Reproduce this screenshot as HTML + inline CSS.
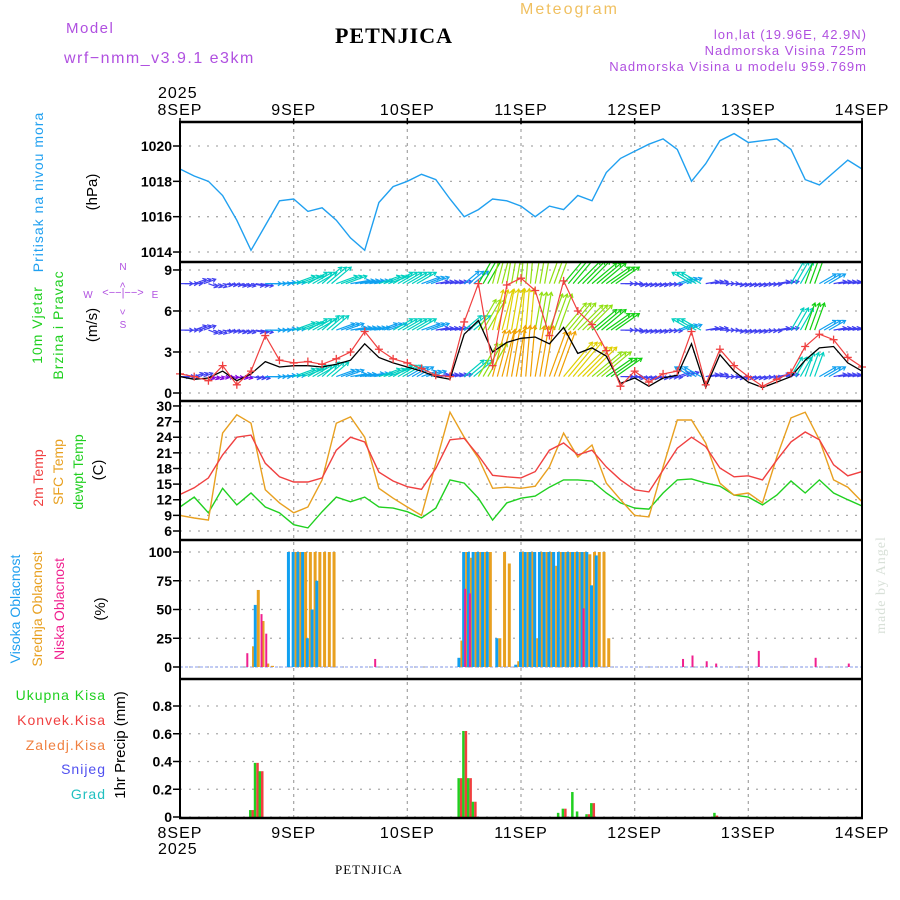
<!DOCTYPE html>
<html><head><meta charset="utf-8"><style>
html,body{margin:0;padding:0;background:#fff;}
svg{display:block;font-family:"Liberation Sans",sans-serif;}
</style></head><body>
<svg id="chart" width="900" height="900" viewBox="0 0 900 900" xmlns="http://www.w3.org/2000/svg">
<defs><clipPath id="cw"><rect x="180" y="262" width="682" height="139"/></clipPath></defs>
<text x="66" y="33" font-size="15" fill="#b050e0" letter-spacing="1.5">Model</text>
<text x="64" y="63" font-size="16" fill="#b050e0" letter-spacing="1.5">wrf−nmm_v3.9.1 e3km</text>
<text x="394" y="43" font-size="22" font-weight="bold" text-anchor="middle" font-family="Liberation Serif,serif" letter-spacing="1">PETNJICA</text>
<text x="520" y="14" font-size="16" fill="#f0c060" letter-spacing="2">Meteogram</text>
<text x="867" y="39" font-size="13" fill="#b050e0" text-anchor="end" letter-spacing="1">lon,lat (19.96E, 42.9N)</text>
<text x="867" y="55" font-size="13" fill="#b050e0" text-anchor="end" letter-spacing="1">Nadmorska Visina 725m</text>
<text x="867" y="71" font-size="13" fill="#b050e0" text-anchor="end" letter-spacing="1">Nadmorska Visina u modelu 959.769m</text>
<text x="158" y="98" font-size="16" letter-spacing="1">2025</text>
<text x="158" y="854" font-size="16" letter-spacing="1">2025</text>
<text x="369" y="874" font-size="13" text-anchor="middle" font-family="Liberation Serif,serif" letter-spacing="1">PETNJICA</text>
<text transform="translate(885,585) rotate(-90)" font-size="14" fill="#d8e0d8" text-anchor="middle" font-family="Liberation Serif,serif" letter-spacing="1">made by Angel</text>
<!-- left titles -->
<text transform="translate(43,192) rotate(-90)" font-size="14" fill="#20a0f0" text-anchor="middle" letter-spacing="1">Pritisak na nivou mora</text>
<text transform="translate(97,192) rotate(-90)" font-size="15" text-anchor="middle">(hPa)</text>
<text transform="translate(42,325) rotate(-90)" font-size="14" fill="#20d020" text-anchor="middle" letter-spacing="1">10m Vjetar</text>
<text transform="translate(63,325) rotate(-90)" font-size="14" fill="#20d020" text-anchor="middle" letter-spacing="1">Brzina i Pravac</text>
<text transform="translate(97,325) rotate(-90)" font-size="15" text-anchor="middle">(m/s)</text>
<g fill="#b050e0" stroke="none" font-size="10">
<text x="123" y="270" text-anchor="middle">N</text><text x="123" y="328" text-anchor="middle">S</text>
<text x="88" y="298" text-anchor="middle">W</text><text x="155" y="298" text-anchor="middle">E</text>
<text x="123" y="296" text-anchor="middle" font-size="11">&lt;−−|−−&gt;</text>
<text transform="translate(126,285) rotate(-90)" text-anchor="middle">&gt;</text>
<text transform="translate(126,312) rotate(-90)" text-anchor="middle">&lt;</text>
</g>
<text transform="translate(43,478) rotate(-90)" font-size="14" fill="#f04040" text-anchor="middle">2m Temp</text>
<text transform="translate(63,472) rotate(-90)" font-size="14" fill="#e8a020" text-anchor="middle">SFC Temp</text>
<text transform="translate(83,472) rotate(-90)" font-size="14" fill="#20d020" text-anchor="middle">dewpt Temp</text>
<text transform="translate(103,470) rotate(-90)" font-size="15" text-anchor="middle">(C)</text>
<text transform="translate(20,609) rotate(-90)" font-size="14" fill="#20a0f0" text-anchor="middle">Visoka Oblacnost</text>
<text transform="translate(42,609) rotate(-90)" font-size="14" fill="#e8a020" text-anchor="middle">Srednja Oblacnost</text>
<text transform="translate(64,609) rotate(-90)" font-size="14" fill="#f0208f" text-anchor="middle">Niska Oblacnost</text>
<text transform="translate(105,609) rotate(-90)" font-size="15" text-anchor="middle">(%)</text>
<g font-size="14" text-anchor="end" letter-spacing="1">
<text x="106" y="700" fill="#20d020">Ukupna Kisa</text>
<text x="106" y="725" fill="#f04040">Konvek.Kisa</text>
<text x="106" y="750" fill="#f08040">Zaledj.Kisa</text>
<text x="106" y="774" fill="#5050f0">Snijeg</text>
<text x="106" y="799" fill="#20c0c0">Grad</text>
</g>
<text transform="translate(125,745) rotate(-90)" font-size="15" text-anchor="middle">1hr Precip (mm)</text>
<g id="grid"></g><g id="marks"></g><g id="frame"></g>
</svg>
<script>
const days=['8SEP','9SEP','10SEP','11SEP','12SEP','13SEP','14SEP'];
const pressure=[1018.7,1018.3,1018.0,1017.2,1015.8,1014.1,1015.5,1016.9,1017.0,1016.3,1016.5,1015.8,1014.8,1014.1,1016.8,1017.7,1018.0,1018.4,1018.1,1017.0,1016.0,1016.4,1017.0,1016.9,1016.6,1016.0,1016.6,1016.4,1017.2,1016.9,1018.5,1019.3,1019.7,1020.1,1020.4,1019.8,1018.0,1019.0,1020.3,1020.7,1020.2,1020.3,1020.4,1019.8,1018.1,1017.8,1018.5,1019.2,1018.7];
const windSpeed=[1.2,1.0,1.1,1.6,0.9,1.4,2.3,1.9,2.0,2.0,1.9,2.1,2.4,3.6,2.6,2.2,1.9,1.6,1.2,1.0,4.3,5.3,3.0,3.7,4.0,4.1,3.6,4.8,2.9,3.3,2.7,0.7,1.1,0.5,1.1,1.3,3.6,0.4,2.8,1.6,0.8,0.4,0.8,1.2,2.4,3.3,3.4,2.2,1.6];
const windGust=[1.4,1.2,0.9,2.0,0.6,1.6,4.2,2.4,2.2,2.3,2.1,2.5,3.0,4.5,3.2,2.5,2.2,1.8,1.3,1.2,5.2,8.0,2.0,7.9,8.4,7.5,4.2,8.2,6.0,5.0,3.1,0.5,1.6,0.8,1.4,1.6,4.5,0.6,3.2,2.0,1.2,0.5,1.0,1.5,3.4,4.3,3.9,2.6,1.9];
const speedTop=[4,4,3,3,3,4,5,5,7,7,8,7,6,6,7,7,7,6,4,4,6,9,11,11,12,11,11,10,10,10,9,4,3,3,3,5,7,4,3,3,3,3,4,8,9,6,4,4,4];
const speedMid=[4,4,3,3,3,4,5,5,7,7,7,6,5,5,6,7,7,6,4,4,7,11,13,13,13,12,12,11,11,10,9,4,3,3,3,5,7,4,3,3,3,3,4,8,9,6,4,4,4];
const speedLow=[3,3,2,2,2,3,5,5,7,7,7,6,5,6,7,7,6,5,4,4,8,12,15,15,16,16,15,14,13,12,10,4,3,3,3,4,6,4,3,3,3,3,4,7,8,6,4,4,4];
const windDir=[0,20,-20,-10,-15,-10,0,5,20,30,40,20,10,10,20,30,30,20,10,10,40,60,75,80,85,80,70,50,45,40,35,0,-10,-10,-5,20,150,10,0,-10,-10,-5,10,60,70,30,10,10,10];
const temp2m=[13,14.3,16.2,20.6,24,24.4,19,16.4,15.4,15.4,16.2,21.5,24,23.1,17.3,15.6,14.5,14,18,23.5,23.8,20.5,16.7,16.4,16.2,17.4,21.5,22.9,20.6,21.5,18.3,15.8,13.9,13.5,17.7,21.9,24,22.2,18.1,16.4,16.6,15.8,19.6,23.1,25,23.5,18.7,16.6,17.4];
const tempSfc=[9,8.5,8.1,24.8,28.3,26.7,13.9,11.4,9.5,10.6,15.8,26.7,27.9,24,14.2,12.3,10.6,9,19,28.8,24,20,14.2,14.4,14.2,14.6,18.3,24.8,20.2,22.5,15.2,12,9,8.7,18.3,27.3,27.3,22.9,15.2,12.9,13.3,11.4,20.2,27.7,28.8,23.5,15.8,14.4,11.6];
const tempDew=[10.6,12.5,9.5,14.2,11,13.3,10.6,9.5,7.2,6.6,9.7,12.5,11.6,12.5,10.6,10.4,9.7,8.5,10.4,15.8,15.2,12.3,8.1,11.4,12.3,12.7,14.4,15.8,15.8,15.6,13.3,11.4,10.4,10.2,13.3,15.8,16,15.2,14.6,12.9,12.5,11,12.9,15.6,13.3,15.8,13.3,12,10.8];
const cloudHours=[14,15,16,17,18,19,23,24,25,26,27,28,29,30,31,32,41,59,60,61,62,63,64,65,67,68,69,71,72,73,74,75,76,77,78,79,80,81,82,83,84,85,86,87,88,89,90,106,108,111,113,122,134,141];
const cloudHigh=[0,0,54,0,0,0, 100,100,100,100,25,50,75,0,0,0, 0, 8,100,100,100,100,100,100, 25,0,0, 2,100,100,100,100,100,100,100,100,100,100,100,100,100,100,100,71,97,0,0, 0,0,0,0,0,0,0];
const cloudMid=[0,18,67,40,3,1, 0,100,100,100,100,100,100,100,100,100, 0, 23,100,95,100,100,100,100, 25,100,90, 5,100,100,100,25,100,100,100,88,100,100,100,100,100,100,98,100,100,100,25, 0,0,0,0,0,0,0];
const cloudLow=[12,0,0,46,29,0, 0,0,0,0,0,0,0,0,0,0, 7, 0,68,64,0,0,0,0, 0,0,0, 0,0,0,0,0,0,0,0,0,0,0,0,0,0,51,0,0,0,0,0, 7,10,5,3,14,8,3];
const precipHours=[15,16,17,59,60,61,62,80,81,83,84,86,87,113];
const precipTotal=[0.05,0.39,0.33,0.28,0.62,0.28,0.11,0.03,0.06,0.18,0.04,0.02,0.10,0.03];
const precipConv=[0.05,0.39,0.33,0.28,0.62,0.28,0.11,0,0.06,0,0,0.02,0.10,0.01];
const pTicks=[1014,1016,1018,1020], wTicks=[0,3,6,9], tTicks=[6,9,12,15,18,21,24,27,30], cTicks=[0,25,50,75,100], rTicks=[0,0.2,0.4,0.6,0.8];
const rTickLabels=['0','0.2','0.4','0.6','0.8'];

const NS='http://www.w3.org/2000/svg';
const X0=180,X1=862;
const xH=h=>X0+h*(X1-X0)/144;
const xI=i=>xH(i*3);
const yP=v=>146+(1020-v)*17.67;
const yW=v=>393-v*13.67;
const yT=v=>531-(v-6)*5.21;
const yC=v=>667-v*1.15;
const yR=v=>817-v*138.75;
function mk(tag,attrs,parent){const e=document.createElementNS(NS,tag);for(const k in attrs)e.setAttribute(k,attrs[k]);parent.appendChild(e);return e;}
const grid=document.getElementById('grid'),marks=document.getElementById('marks'),frame=document.getElementById('frame');
const panels=[[122,262,pTicks,yP,null],[262,401,wTicks,yW,null],[401,540,tTicks,yT,null],[540,679,cTicks,yC,null],[679,818,rTicks,yR,rTickLabels]];
panels.forEach((p,pi)=>{
  p[2].forEach((t,ti)=>{
    const y=p[3](t);
    const g=mk('line',{x1:X0,x2:X1,y1:y,y2:y,stroke:'#aaa','stroke-width':1.3,'stroke-dasharray':'2,7'},grid);
    
    
    const tk=mk('line',{x1:X0-7,x2:X0,y1:y,y2:y,stroke:'#000','stroke-width':1.5},frame);
    
    
    const lb=mk('text',{x:X0-8,y:y+5,'font-size':14,'text-anchor':'end','font-weight':'bold'},frame);
    lb.textContent=p[4]?p[4][ti]:String(t);
    
    
  });
});
days.forEach((d,i)=>{
  const x=xH(i*24);
  if(i>0&&i<6){const g=mk('line',{x1:x,x2:x,y1:122,y2:818,stroke:'#aaa','stroke-width':1.3,'stroke-dasharray':'3,4'},grid);
  
  }
  const t1=mk('text',{x:x,y:115,'font-size':16,'text-anchor':'middle','letter-spacing':1},frame);t1.textContent=d;
  
  
  const t2=mk('text',{x:x,y:838,'font-size':16,'text-anchor':'middle','letter-spacing':1},frame);t2.textContent=d;
  
  
  const tk=mk('line',{x1:x,x2:x,y1:118,y2:124,stroke:'#000','stroke-width':1.5},frame);
  
  
});
function poly(arr,yf,color,name,w){
  const pts=arr.map((v,i)=>xI(i).toFixed(1)+','+yf(v).toFixed(1)).join(' ');
  const e=mk('polyline',{points:pts,fill:'none',stroke:color,'stroke-width':w||1.4},marks);
  
  
  return e;
}
poly(pressure,yP,'#20a0f0','pressure-line');
// wind arrows
function spdColor(s){const c=['#8000e0','#4040f0','#10a0f0','#00d0c0','#10d010','#90e010','#e0d000','#f0a000','#f04040'];return c[Math.max(0,Math.min(8,Math.floor((s-1)/2)))];}
const wg=mk('g',{'clip-path':'url(#cw)'},marks);


[[speedTop,8.0],[speedMid,4.6],[speedLow,1.2]].forEach(([arr,lvl])=>{
  arr.forEach((s,i)=>{
    for(let k=0;k<3;k++){
      const h=i*3+k; if(h>144)break;
      const x=xH(h),y=yW(lvl),L=s*3.2,a=windDir[i]*Math.PI/180;
      const x2=x+L*Math.cos(a),y2=y-L*Math.sin(a);
      const col=spdColor(s);
      const ln=mk('line',{x1:x,y1:y,x2:x2,y2:y2,stroke:col,'stroke-width':1.2},wg);
      
      
      const b1=a+Math.PI*0.82,b2=a-Math.PI*0.82;
      const hd=mk('polyline',{points:`${x2+4*Math.cos(b1)},${y2-4*Math.sin(b1)} ${x2},${y2} ${x2+4*Math.cos(b2)},${y2-4*Math.sin(b2)}`,fill:'none',stroke:col,'stroke-width':1.2},wg);
      
      
    }
  });
});
poly(windSpeed,yW,'#000','wind-speed-line',1.3);
poly(windGust,yW,'#f04040','wind-gust-line',1.2);
windGust.forEach((v,i)=>{
  const x=xI(i),y=yW(v);
  const m=mk('path',{d:`M${x-4},${y}H${x+4}M${x},${y-4}V${y+4}`,stroke:'#f04040','stroke-width':1.3},marks);
  
  
});
poly(tempDew,yT,'#20d020','dewpoint-line');
poly(tempSfc,yT,'#e8a020','sfc-temp-line');
poly(temp2m,yT,'#f04040','temp-2m-line');
// cloud baseline
const cb=mk('line',{x1:X0,x2:X1,y1:yC(0),y2:yC(0),stroke:'#a0b0f0','stroke-width':1.2,'stroke-dasharray':'3,2'},marks);


cloudHours.forEach((h,i)=>{
  const x=xH(h);
  [[cloudHigh[i],'#10a0f0',-2,3,'cloud-high-bar'],[cloudMid[i],'#e8a020',1,3,'cloud-mid-bar'],[cloudLow[i],'#f0208f',0,2,'cloud-low-bar']].forEach(([v,c,o,w,n])=>{
    if(v<=0)return;
    const r=mk('rect',{x:x+o,y:yC(v),width:w,height:yC(0)-yC(v),fill:c},marks);
    
    
  });
});
precipHours.forEach((h,i)=>{
  const x=xH(h);
  if(precipTotal[i]>0){const r=mk('rect',{x:x-2,y:yR(precipTotal[i]),width:2.5,height:yR(0)-yR(precipTotal[i]),fill:'#20d020'},marks);
  
  }
  if(precipConv[i]>0){const r=mk('rect',{x:x+0.5,y:yR(precipConv[i]),width:2.5,height:yR(0)-yR(precipConv[i]),fill:'#f04040'},marks);
  
  }
});
// frame
[122,262,401,540,679,818].forEach(y=>{const l=mk('line',{x1:X0-1,x2:X1+1,y1:y,y2:y,stroke:'#000','stroke-width':2.5},frame);

});
[X0,X1].forEach(x=>{const l=mk('line',{x1:x,x2:x,y1:121,y2:819,stroke:'#000','stroke-width':2},frame);

});
</script>
</body></html>
